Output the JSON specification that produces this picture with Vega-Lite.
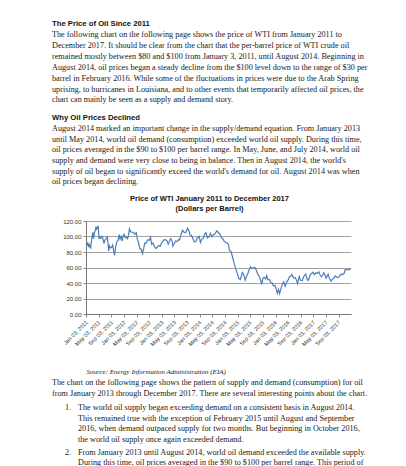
{
  "$schema": "https://vega.github.io/schema/vega-lite/v6.json",
  "background": "white",
  "padding": {"left": 52, "top": 19, "right": 0, "bottom": 0},
  "config": {
    "view": {"stroke": null},
    "concat": {"spacing": 3}
  },
  "datasets": {
    "s1": [
      {"line": 0, "role": "heading", "text": "The Price of Oil  Since 2011"},
      {"line": 1, "role": "body", "text": "The following chart on the following page shows the price of WTI from January 2011 to"},
      {"line": 2, "role": "body", "text": "December 2017.  It should be clear from the chart that the per-barrel price of WTI crude oil"},
      {"line": 3, "role": "body", "text": "remained mostly between $80 and $100 from January 3, 2011, until August 2014.  Beginning in"},
      {"line": 4, "role": "body", "text": "August 2014, oil prices began a steady decline from the $100 level down to the range of $30 per"},
      {"line": 5, "role": "body", "text": "barrel in February 2016.  While some of the fluctuations in prices were due to the Arab Spring"},
      {"line": 6, "role": "body", "text": "uprising, to hurricanes in Louisiana, and to other events that temporarily affected oil prices, the"},
      {"line": 7, "role": "body", "text": "chart can mainly be seen as a supply and demand story."}
    ],
    "s2": [
      {"line": 0, "role": "heading", "text": "Why Oil Prices Declined"},
      {"line": 1, "role": "body", "text": "August 2014 marked an important change in the supply/demand equation.  From January 2013"},
      {"line": 2, "role": "body", "text": "until May 2014, world oil demand (consumption) exceeded world oil supply.  During this time,"},
      {"line": 3, "role": "body", "text": "oil prices averaged in the $90 to $100 per barrel range.  In May, June, and July 2014, world oil"},
      {"line": 4, "role": "body", "text": "supply and demand were very close to being in balance.  Then in August 2014, the world's"},
      {"line": 5, "role": "body", "text": "supply of oil began to significantly exceed the world's demand for oil.  August 2014 was when"},
      {"line": 6, "role": "body", "text": "oil prices began declining."}
    ],
    "s3a": [
      {"line": 0, "text": "The chart on the following page shows the pattern of supply and demand (consumption) for oil"},
      {"line": 1, "text": "from January 2013 through December 2017.  There are several interesting points about the chart."}
    ],
    "s3b": [
      {"line": 0, "num": "1.", "text": "The world oil supply began exceeding demand on a consistent basis in August 2014."},
      {"line": 1, "num": "", "text": "This remained true with the exception of February 2015 until August and September"},
      {"line": 2, "num": "", "text": "2016, when demand outpaced supply for two months.  But beginning in October 2016,"},
      {"line": 3, "num": "", "text": "the world oil supply once again exceeded demand."}
    ],
    "s3c": [
      {"line": 0, "num": "2.", "text": "From January 2013 until August 2014, world oil demand exceeded the available supply."},
      {"line": 1, "num": "", "text": "During this time, oil prices averaged in the $90 to $100 per barrel range.  This period of"}
    ],
    "wti": [
      {"date": "2011-01-03", "price": 91.6}, {"date": "2011-01-10", "price": 89.3}, {"date": "2011-01-18", "price": 91.4}, {"date": "2011-01-25", "price": 86.2},
      {"date": "2011-02-01", "price": 90.8}, {"date": "2011-02-08", "price": 86.9}, {"date": "2011-02-15", "price": 84.3}, {"date": "2011-02-22", "price": 93.6},
      {"date": "2011-03-01", "price": 99.6}, {"date": "2011-03-07", "price": 105.4}, {"date": "2011-03-15", "price": 97.2}, {"date": "2011-03-24", "price": 105.6},
      {"date": "2011-04-01", "price": 107.9}, {"date": "2011-04-08", "price": 112.8}, {"date": "2011-04-15", "price": 109.7}, {"date": "2011-04-29", "price": 113.9},
      {"date": "2011-05-06", "price": 97.2}, {"date": "2011-05-13", "price": 99.6}, {"date": "2011-05-23", "price": 97.7}, {"date": "2011-06-01", "price": 100.3},
      {"date": "2011-06-10", "price": 99.3}, {"date": "2011-06-23", "price": 91.0}, {"date": "2011-07-01", "price": 94.9}, {"date": "2011-07-15", "price": 97.2},
      {"date": "2011-07-26", "price": 99.6}, {"date": "2011-08-08", "price": 81.3}, {"date": "2011-08-15", "price": 87.9}, {"date": "2011-08-25", "price": 85.3},
      {"date": "2011-09-06", "price": 86.0}, {"date": "2011-09-15", "price": 88.9}, {"date": "2011-09-26", "price": 80.2}, {"date": "2011-10-04", "price": 75.7},
      {"date": "2011-10-14", "price": 86.8}, {"date": "2011-10-25", "price": 93.2}, {"date": "2011-11-07", "price": 95.5}, {"date": "2011-11-16", "price": 102.6},
      {"date": "2011-11-25", "price": 96.8}, {"date": "2011-12-05", "price": 101.0}, {"date": "2011-12-15", "price": 93.9}, {"date": "2011-12-27", "price": 101.3},
      {"date": "2012-01-03", "price": 103.0}, {"date": "2012-01-13", "price": 98.7}, {"date": "2012-01-24", "price": 99.0}, {"date": "2012-02-06", "price": 97.0},
      {"date": "2012-02-17", "price": 103.2}, {"date": "2012-02-24", "price": 109.8}, {"date": "2012-03-07", "price": 106.2}, {"date": "2012-03-20", "price": 105.6},
      {"date": "2012-04-02", "price": 105.2}, {"date": "2012-04-16", "price": 102.9}, {"date": "2012-04-30", "price": 104.9}, {"date": "2012-05-10", "price": 96.8},
      {"date": "2012-05-22", "price": 91.7}, {"date": "2012-06-04", "price": 83.9}, {"date": "2012-06-15", "price": 84.0}, {"date": "2012-06-28", "price": 77.7},
      {"date": "2012-07-10", "price": 83.9}, {"date": "2012-07-20", "price": 91.4}, {"date": "2012-08-03", "price": 91.4}, {"date": "2012-08-16", "price": 95.6},
      {"date": "2012-09-04", "price": 95.3}, {"date": "2012-09-14", "price": 99.0}, {"date": "2012-09-26", "price": 89.9}, {"date": "2012-10-10", "price": 91.3},
      {"date": "2012-10-23", "price": 86.7}, {"date": "2012-11-07", "price": 84.4}, {"date": "2012-11-20", "price": 86.8}, {"date": "2012-12-04", "price": 88.5},
      {"date": "2012-12-17", "price": 87.2}, {"date": "2012-12-31", "price": 91.8},
      {"date": "2013-01-10", "price": 93.8}, {"date": "2013-01-25", "price": 95.9}, {"date": "2013-02-08", "price": 95.7}, {"date": "2013-02-20", "price": 94.5},
      {"date": "2013-03-04", "price": 90.1}, {"date": "2013-03-15", "price": 93.5}, {"date": "2013-03-28", "price": 97.2}, {"date": "2013-04-10", "price": 94.6},
      {"date": "2013-04-18", "price": 87.7}, {"date": "2013-05-01", "price": 91.0}, {"date": "2013-05-15", "price": 94.2}, {"date": "2013-05-30", "price": 93.6},
      {"date": "2013-06-10", "price": 95.8}, {"date": "2013-06-20", "price": 95.4}, {"date": "2013-07-03", "price": 101.2}, {"date": "2013-07-19", "price": 108.0},
      {"date": "2013-08-06", "price": 105.3}, {"date": "2013-08-20", "price": 105.1}, {"date": "2013-09-06", "price": 110.5}, {"date": "2013-09-18", "price": 108.1},
      {"date": "2013-10-01", "price": 102.0}, {"date": "2013-10-15", "price": 101.2}, {"date": "2013-10-30", "price": 96.8}, {"date": "2013-11-12", "price": 93.0},
      {"date": "2013-11-26", "price": 93.7}, {"date": "2013-12-10", "price": 98.5}, {"date": "2013-12-27", "price": 100.3},
      {"date": "2014-01-09", "price": 92.4}, {"date": "2014-01-22", "price": 96.7}, {"date": "2014-02-06", "price": 97.8}, {"date": "2014-02-19", "price": 103.3},
      {"date": "2014-03-03", "price": 104.9}, {"date": "2014-03-17", "price": 98.1}, {"date": "2014-04-01", "price": 99.7}, {"date": "2014-04-15", "price": 104.1},
      {"date": "2014-04-30", "price": 99.7}, {"date": "2014-05-14", "price": 102.4}, {"date": "2014-05-29", "price": 103.6}, {"date": "2014-06-12", "price": 106.5},
      {"date": "2014-06-20", "price": 107.3}, {"date": "2014-07-02", "price": 104.5}, {"date": "2014-07-17", "price": 103.2}, {"date": "2014-07-31", "price": 98.2},
      {"date": "2014-08-12", "price": 97.4}, {"date": "2014-08-26", "price": 93.9}, {"date": "2014-09-09", "price": 92.7}, {"date": "2014-09-23", "price": 91.6},
      {"date": "2014-10-07", "price": 88.9}, {"date": "2014-10-16", "price": 81.8}, {"date": "2014-10-30", "price": 81.1}, {"date": "2014-11-13", "price": 74.2},
      {"date": "2014-11-28", "price": 66.2}, {"date": "2014-12-10", "price": 60.9}, {"date": "2014-12-23", "price": 55.3},
      {"date": "2015-01-05", "price": 50.0}, {"date": "2015-01-13", "price": 46.0}, {"date": "2015-01-28", "price": 44.5}, {"date": "2015-02-10", "price": 50.0},
      {"date": "2015-02-17", "price": 53.5}, {"date": "2015-03-03", "price": 50.5}, {"date": "2015-03-17", "price": 43.5}, {"date": "2015-03-30", "price": 48.7},
      {"date": "2015-04-14", "price": 53.3}, {"date": "2015-04-29", "price": 58.6}, {"date": "2015-05-06", "price": 60.9}, {"date": "2015-05-20", "price": 58.9},
      {"date": "2015-06-03", "price": 59.6}, {"date": "2015-06-17", "price": 60.0}, {"date": "2015-07-01", "price": 56.9}, {"date": "2015-07-15", "price": 51.4},
      {"date": "2015-07-30", "price": 48.5}, {"date": "2015-08-12", "price": 43.3}, {"date": "2015-08-24", "price": 38.2}, {"date": "2015-09-01", "price": 45.4},
      {"date": "2015-09-16", "price": 47.2}, {"date": "2015-09-30", "price": 45.1}, {"date": "2015-10-09", "price": 49.6}, {"date": "2015-10-22", "price": 44.4},
      {"date": "2015-11-06", "price": 44.3}, {"date": "2015-11-18", "price": 40.8}, {"date": "2015-12-02", "price": 40.0}, {"date": "2015-12-14", "price": 36.3},
      {"date": "2015-12-28", "price": 36.8},
      {"date": "2016-01-07", "price": 33.3}, {"date": "2016-01-20", "price": 26.6}, {"date": "2016-02-01", "price": 31.6}, {"date": "2016-02-11", "price": 26.2},
      {"date": "2016-02-25", "price": 33.1}, {"date": "2016-03-09", "price": 38.3}, {"date": "2016-03-22", "price": 41.5}, {"date": "2016-04-05", "price": 35.7},
      {"date": "2016-04-19", "price": 41.1}, {"date": "2016-05-03", "price": 43.7}, {"date": "2016-05-17", "price": 48.3}, {"date": "2016-06-01", "price": 49.0},
      {"date": "2016-06-08", "price": 51.2}, {"date": "2016-06-27", "price": 46.3}, {"date": "2016-07-12", "price": 46.8}, {"date": "2016-07-25", "price": 43.1},
      {"date": "2016-08-02", "price": 39.5}, {"date": "2016-08-18", "price": 48.2}, {"date": "2016-09-01", "price": 43.2}, {"date": "2016-09-16", "price": 43.0},
      {"date": "2016-10-03", "price": 48.8}, {"date": "2016-10-19", "price": 51.6}, {"date": "2016-11-03", "price": 44.7}, {"date": "2016-11-14", "price": 43.3},
      {"date": "2016-11-30", "price": 49.4}, {"date": "2016-12-09", "price": 51.5}, {"date": "2016-12-28", "price": 54.0},
      {"date": "2017-01-10", "price": 50.8}, {"date": "2017-01-25", "price": 53.2}, {"date": "2017-02-08", "price": 52.3}, {"date": "2017-02-23", "price": 54.5},
      {"date": "2017-03-08", "price": 50.3}, {"date": "2017-03-22", "price": 48.0}, {"date": "2017-04-04", "price": 51.0}, {"date": "2017-04-12", "price": 53.1},
      {"date": "2017-04-27", "price": 49.3}, {"date": "2017-05-05", "price": 46.2}, {"date": "2017-05-24", "price": 51.4}, {"date": "2017-06-07", "price": 45.7},
      {"date": "2017-06-21", "price": 42.5}, {"date": "2017-07-05", "price": 45.1}, {"date": "2017-07-20", "price": 46.8}, {"date": "2017-08-01", "price": 49.2},
      {"date": "2017-08-17", "price": 47.1}, {"date": "2017-08-31", "price": 47.2}, {"date": "2017-09-13", "price": 49.3}, {"date": "2017-09-28", "price": 51.6},
      {"date": "2017-10-10", "price": 51.0}, {"date": "2017-10-25", "price": 52.2}, {"date": "2017-11-06", "price": 57.4}, {"date": "2017-11-21", "price": 56.8},
      {"date": "2017-12-05", "price": 57.5}, {"date": "2017-12-15", "price": 57.3}, {"date": "2017-12-27", "price": 58.5}
    ]
  },
  "vconcat": [
    {
      "spacing": 7,
      "vconcat": [
        {
          "width": 326,
          "height": {"step": 10.86},
          "data": {"name": "s1"},
          "encoding": {
            "y": {"field": "line", "type": "ordinal", "scale": {"type": "point", "padding": 0.5}, "axis": null},
            "x": {"value": 0},
            "text": {"field": "text"}
          },
          "layer": [
            {"transform": [{"filter": "datum.role === 'heading'"}], "mark": {"type": "text", "align": "left", "baseline": "middle", "font": "Liberation Sans", "fontWeight": "bold", "fontSize": 7.7, "color": "#111"}},
            {"transform": [{"filter": "datum.role === 'body'"}], "mark": {"type": "text", "align": "left", "baseline": "middle", "font": "Liberation Serif", "fontSize": 8.2, "color": "#1a1a1a"}}
          ]
        },
        {
          "width": 326,
          "height": {"step": 10.67},
          "data": {"name": "s2"},
          "encoding": {
            "y": {"field": "line", "type": "ordinal", "scale": {"type": "point", "padding": 0.5}, "axis": null},
            "x": {"value": 0},
            "text": {"field": "text"}
          },
          "layer": [
            {"transform": [{"filter": "datum.role === 'heading'"}], "mark": {"type": "text", "align": "left", "baseline": "middle", "font": "Liberation Sans", "fontWeight": "bold", "fontSize": 7.7, "color": "#111"}},
            {"transform": [{"filter": "datum.role === 'body'"}], "mark": {"type": "text", "align": "left", "baseline": "middle", "font": "Liberation Serif", "fontSize": 8.2, "color": "#1a1a1a"}}
          ]
        },
        {
          "spacing": 9,
          "hconcat": [
            {"width": 1, "height": 1, "data": {"values": []}, "mark": {"type": "point", "opacity": 0}},
            {
              "width": 265,
              "height": 93,
              "data": {"name": "wti"},
              "title": {"text": ["Price of WTI January 2011 to December 2017", "(Dollars per Barrel)"], "font": "Liberation Sans", "fontSize": 7.5, "fontWeight": "bold", "lineHeight": 9.5, "offset": 6, "anchor": "middle", "frame": "group", "dx": -9, "color": "#111"},
              "mark": {"type": "line", "color": "#4a7ebb", "strokeWidth": 1.2},
              "encoding": {
                "x": {
                  "field": "date", "type": "temporal",
                  "scale": {"domain": [{"year": 2011, "month": 1, "date": 1}, {"year": 2017, "month": 12, "date": 31}]},
                  "axis": {
                    "values": [
                      {"year": 2011, "month": 1, "date": 3}, {"year": 2011, "month": 5, "date": 3}, {"year": 2011, "month": 9, "date": 3},
                      {"year": 2012, "month": 1, "date": 3}, {"year": 2012, "month": 5, "date": 3}, {"year": 2012, "month": 9, "date": 3},
                      {"year": 2013, "month": 1, "date": 3}, {"year": 2013, "month": 5, "date": 3}, {"year": 2013, "month": 9, "date": 3},
                      {"year": 2014, "month": 1, "date": 3}, {"year": 2014, "month": 5, "date": 3}, {"year": 2014, "month": 9, "date": 3},
                      {"year": 2015, "month": 1, "date": 3}, {"year": 2015, "month": 5, "date": 3}, {"year": 2015, "month": 9, "date": 3},
                      {"year": 2016, "month": 1, "date": 3}, {"year": 2016, "month": 5, "date": 3}, {"year": 2016, "month": 9, "date": 3},
                      {"year": 2017, "month": 1, "date": 3}, {"year": 2017, "month": 5, "date": 3}, {"year": 2017, "month": 9, "date": 3}
                    ],
                    "format": "%b %d, %Y",
                    "labelAngle": -45, "labelAlign": "right", "labelBaseline": "middle",
                    "labelFont": "Liberation Sans", "labelFontSize": 5.5, "labelColor": "#333", "labelPadding": 4, "labelOverlap": false, "labelFlush": false,
                    "grid": false, "domainColor": "#777", "tickColor": "#888", "tickSize": 3,
                    "title": "Source: Energy Information Administration (EIA)",
                    "titleFont": "Liberation Serif", "titleFontStyle": "italic", "titleFontWeight": "normal", "titleFontSize": 7, "titleColor": "#222",
                    "titleAnchor": "start", "titlePadding": 20
                  }
                },
                "y": {
                  "field": "price", "type": "quantitative",
                  "scale": {"domain": [0, 120]},
                  "axis": {
                    "values": [0, 20, 40, 60, 80, 100, 120], "format": ".2f",
                    "labelFont": "Liberation Sans", "labelFontSize": 6, "labelColor": "#333", "labelPadding": 2,
                    "grid": true, "gridColor": "#8c8c8c", "gridWidth": 0.8,
                    "domainColor": "#777", "tickColor": "#888", "tickSize": 3,
                    "title": null
                  }
                }
              }
            }
          ]
        }
      ]
    },
    {
      "width": 326,
      "height": {"step": 10.6},
      "data": {"name": "s3a"},
      "mark": {"type": "text", "align": "left", "baseline": "middle", "font": "Liberation Serif", "fontSize": 8.2, "color": "#1a1a1a"},
      "encoding": {
        "y": {"field": "line", "type": "ordinal", "scale": {"type": "point", "padding": 0.5}, "axis": null},
        "x": {"value": 0},
        "text": {"field": "text"}
      }
    },
    {
      "width": 326,
      "height": {"step": 10.5},
      "data": {"name": "s3b"},
      "encoding": {
        "y": {"field": "line", "type": "ordinal", "scale": {"type": "point", "padding": 0.5}, "axis": null}
      },
      "layer": [
        {"mark": {"type": "text", "align": "left", "baseline": "middle", "font": "Liberation Serif", "fontSize": 8.2, "color": "#1a1a1a"}, "encoding": {"x": {"value": 13}, "text": {"field": "num"}}},
        {"mark": {"type": "text", "align": "left", "baseline": "middle", "font": "Liberation Serif", "fontSize": 8.2, "color": "#1a1a1a"}, "encoding": {"x": {"value": 26}, "text": {"field": "text"}}}
      ]
    },
    {
      "width": 326,
      "height": {"step": 10},
      "data": {"name": "s3c"},
      "encoding": {
        "y": {"field": "line", "type": "ordinal", "scale": {"type": "point", "padding": 0.5}, "axis": null}
      },
      "layer": [
        {"mark": {"type": "text", "align": "left", "baseline": "middle", "font": "Liberation Serif", "fontSize": 8.2, "color": "#1a1a1a"}, "encoding": {"x": {"value": 13}, "text": {"field": "num"}}},
        {"mark": {"type": "text", "align": "left", "baseline": "middle", "font": "Liberation Serif", "fontSize": 8.2, "color": "#1a1a1a"}, "encoding": {"x": {"value": 26}, "text": {"field": "text"}}}
      ]
    }
  ]
}
